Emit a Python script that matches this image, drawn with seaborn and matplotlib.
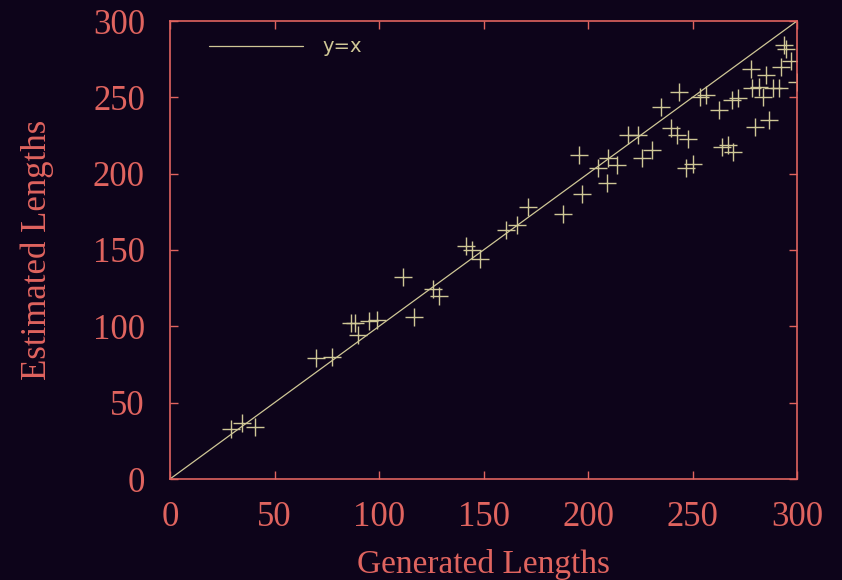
import matplotlib
matplotlib.use("Agg")
import matplotlib.pyplot as plt
import seaborn as sns
import pandas as pd

# generated vs estimated lengths
generated = [29.2, 34.6, 40.7, 69.7, 77.7, 86.6, 88.5, 89.8, 95.2, 98.9,
             111.6, 116.7, 126.0, 128.9, 141.6, 144.3, 148.3,
             160.8, 165.9, 171.1, 187.9, 197.0, 195.8, 204.9, 208.9, 209.7, 213.7,
             219.0, 223.8, 226.0, 230.8, 234.9, 243.7, 239.7, 242.4, 248.0, 246.7,
             250.4, 253.6, 256.5, 262.8, 264.3, 267.1, 269.5, 269.0, 271.9,
             278.0, 278.3, 281.9, 285.0, 283.9, 279.9, 286.7, 288.4, 291.4,
             292.2, 293.8, 294.7, 297.1, 300.0]
estimated = [32.5, 36.5, 34.3, 79.0, 80.1, 102.4, 102.4, 94.3, 103.5, 104.1,
             132.1, 106.3, 124.2, 120.1, 152.6, 150.0, 144.0,
             163.1, 166.4, 178.4, 173.4, 186.5, 212.2, 203.5, 194.0, 210.0, 205.6,
             225.3, 225.3, 210.0, 215.5, 243.6, 253.3, 229.7, 225.3, 222.5, 203.5,
             206.3, 250.4, 251.5, 241.7, 217.6, 218.7, 214.4, 248.2, 249.3,
             268.3, 255.9, 256.9, 264.6, 250.0, 230.3, 235.1, 255.9, 255.9,
             270.0, 284.4, 281.6, 274.0, 260.2]
diag = [0, 300]
ticks = [0, 50, 100, 150, 200, 250, 300]

bg = "#0d041a"
red = "#e0645f"
khaki = "#cfc796"

sns.set_theme(style="ticks")
plt.rcParams["font.family"] = ["Liberation Serif", "DejaVu Serif"]

df = pd.DataFrame({"Generated Lengths": generated, "Estimated Lengths": estimated})

fig = plt.figure(figsize=(8.42, 5.80), dpi=100, facecolor=bg)
ax = fig.add_axes([170 / 842, 1 - 479 / 580, 627 / 842, 458 / 580])
ax.set_facecolor(bg)

ax.plot(diag, diag, color=khaki, lw=0.9, label="y=x")
sns.scatterplot(data=df, x="Generated Lengths", y="Estimated Lengths", ax=ax,
                marker="+", s=160, color=khaki, linewidth=1.0, legend=False)

ax.set_xlim(0, 300)
ax.set_ylim(0, 300)
ax.set_xticks(ticks)
ax.set_yticks(ticks)
ax.tick_params(direction="in", length=6, width=1, color=red, labelcolor=red,
               labelsize=25, top=True, right=True)
ax.tick_params(axis="x", pad=16)
ax.tick_params(axis="y", pad=18)
for sp in ax.spines.values():
    sp.set_color(red)
    sp.set_linewidth(1.2)
    sp.set_visible(True)

ax.set_xlabel("Generated Lengths", color=red, fontsize=24, labelpad=11)
ax.set_ylabel("Estimated Lengths", color=red, fontsize=25, labelpad=28)

leg = ax.legend(loc="upper left", bbox_to_anchor=(0.0495, 0.981), frameon=False,
                handlelength=4.85, handletextpad=1.0, borderaxespad=0,
                prop={"family": "DejaVu Sans", "size": 14})
for t in leg.get_texts():
    t.set_color(khaki)

fig.savefig("out.png", dpi=100, facecolor=bg)
